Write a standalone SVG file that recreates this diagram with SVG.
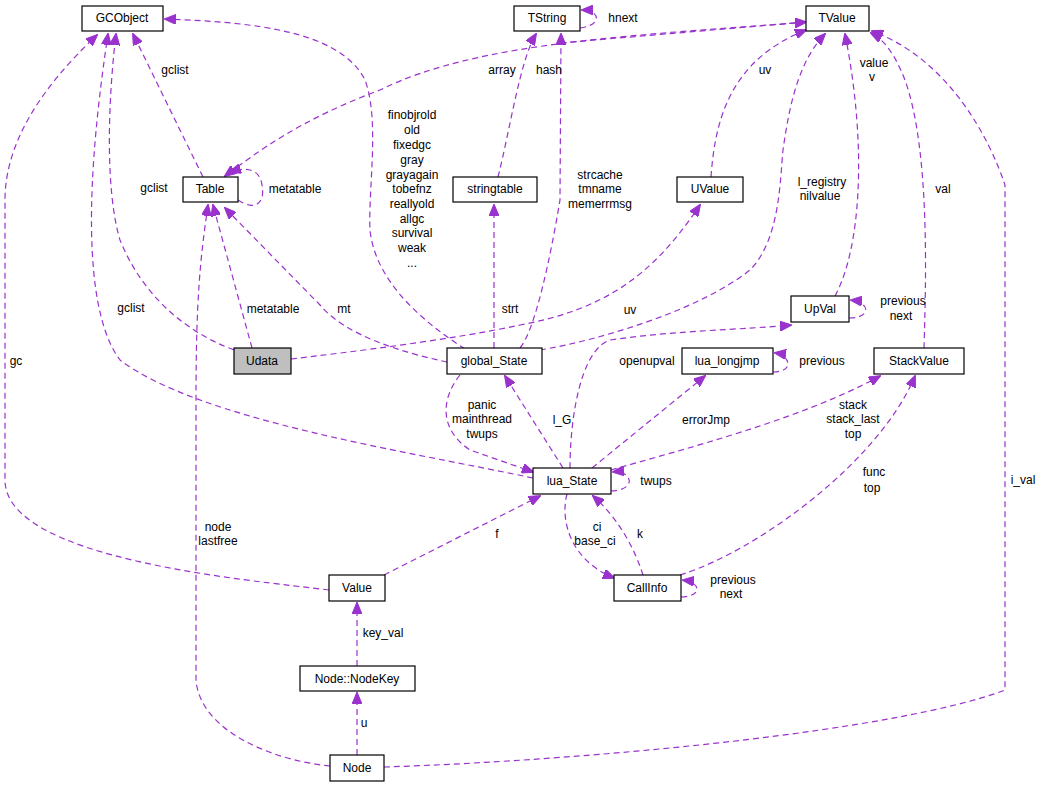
<svg xmlns="http://www.w3.org/2000/svg" width="1044" height="787" viewBox="0 0 1044 787">
<style>
.n rect{fill:#fff;stroke:#000;stroke-width:1.2}
text{font-family:"Liberation Sans",Arial,sans-serif;font-size:12px;fill:#000}
.n text{text-anchor:middle}
.e path{fill:none;stroke:#9a32cd;stroke-width:1.2;stroke-dasharray:6,4;marker-end:url(#a)}
.l text{text-anchor:middle}
</style>
<defs><marker id="a" markerWidth="12" markerHeight="10" refX="11" refY="5" orient="auto" markerUnits="userSpaceOnUse"><path d="M0,0 L12,5 L0,10 Z" fill="#9a32cd" stroke="#9a32cd"/></marker></defs>
<rect width="1044" height="787" fill="#fff"/>
<g class="e">
<path d="M329,590 C250,580 5,560 5,480 L5,200 C5,130 60,70 97,35"/>
<path d="M203,177 L133,34"/>
<path d="M234,350 C180,330 140,290 120,240 C105,190 108,100 116,34"/>
<path d="M533,478 C400,450 200,420 120,360 C90,320 80,220 108,34"/>
<path d="M465,349 C420,320 375,280 370,230 C368,190 380,120 365,80 C340,30 250,22 165,19"/>
<path d="M806,22 C650,35 480,40 380,90 C300,120 260,150 225,176" marker-start="url(#a)" style="marker-start:none"/>
<path d="M560,43 L806,22"/>
<path d="M238,200 C258,213 265,200 262,185 C260,170 248,166 230,172"/>
<path d="M252,348 L213,205"/>
<path d="M447,362 C400,352 345,335 320,305 L225,208"/>
<path d="M330,766 C270,760 200,730 196,680 L196,400 C196,300 200,260 208,205"/>
<path d="M494,348 L494,205"/>
<path d="M498,177 C510,130 520,60 536,34"/>
<path d="M580,28 C603,25 600,10 582,10"/>
<path d="M520,348 C535,330 550,260 560,200 L561,34"/>
<path d="M291,359 C350,352 450,340 520,325 C600,310 650,280 700,205"/>
<path d="M711,177 C715,120 730,60 806,30"/>
<path d="M540,350 C600,340 700,310 750,270 C780,240 780,180 783,150 C790,100 800,60 825,34"/>
<path d="M835,296 C860,250 868,150 845,34"/>
<path d="M849,318 C872,318 870,302 851,300"/>
<path d="M924,348 C926,280 930,150 905,80 C895,55 885,40 871,33"/>
<path d="M384,767 C600,760 900,730 1005,690 L1005,185 C990,140 950,60 872,31"/>
<path d="M570,468 C570,420 580,350 610,340 C680,330 740,330 791,325"/>
<path d="M563,468 L505,376"/>
<path d="M460,375 C440,400 440,430 470,450 L533,472"/>
<path d="M592,468 L705,376"/>
<path d="M611,470 C680,450 800,420 880,376"/>
<path d="M611,491 C638,490 632,470 613,472"/>
<path d="M773,372 C795,372 790,355 775,353"/>
<path d="M384,575 L540,496"/>
<path d="M567,494 C560,520 570,560 614,578"/>
<path d="M643,575 C635,550 620,520 593,496"/>
<path d="M680,575 C760,550 880,460 915,376"/>
<path d="M681,597 C704,596 700,582 683,580"/>
<path d="M357,666 L357,603"/>
<path d="M357,755 L357,693"/>
</g>
<g class="l">
<text x="175" y="74">gclist</text><text x="154" y="192">gclist</text><text x="131" y="312">gclist</text>
<text x="16" y="365">gc</text>
<text x="412" y="119">finobjrold</text><text x="412" y="134">old</text><text x="412" y="149">fixedgc</text><text x="412" y="164">gray</text><text x="412" y="179">grayagain</text><text x="412" y="193">tobefnz</text><text x="412" y="208">reallyold</text><text x="412" y="223">allgc</text><text x="412" y="237">survival</text><text x="412" y="252">weak</text><text x="412" y="267">...</text>
<text x="502" y="74">array</text><text x="295" y="193">metatable</text><text x="273" y="313">metatable</text><text x="344" y="313">mt</text>
<text x="218" y="531">node</text><text x="218" y="545">lastfree</text>
<text x="510" y="313">strt</text><text x="549" y="74">hash</text><text x="623" y="22">hnext</text>
<text x="600" y="179">strcache</text><text x="600" y="193">tmname</text><text x="600" y="208">memerrmsg</text>
<text x="630" y="314">uv</text><text x="765" y="74">uv</text>
<text x="822" y="186">l_registry</text><text x="820" y="200">nilvalue</text>
<text x="874" y="67">value</text><text x="872" y="81">v</text>
<text x="903" y="305">previous</text><text x="901" y="320">next</text>
<text x="943" y="193">val</text><text x="1023" y="484">i_val</text>
<text x="647" y="365">openupval</text><text x="562" y="424">l_G</text>
<text x="482" y="409">panic</text><text x="482" y="423">mainthread</text><text x="482" y="438">twups</text>
<text x="706" y="424">errorJmp</text>
<text x="853" y="409">stack</text><text x="853" y="423">stack_last</text><text x="853" y="438">top</text>
<text x="656" y="485">twups</text><text x="822" y="365">previous</text>
<text x="497" y="538">f</text><text x="597" y="531">ci</text><text x="595" y="545">base_ci</text><text x="640" y="538">k</text>
<text x="874" y="476">func</text><text x="872" y="492">top</text>
<text x="733" y="584">previous</text><text x="731" y="598">next</text>
<text x="383" y="637">key_val</text><text x="364" y="727">u</text>
</g>
<g class="n" id="GCObject"><rect x="82" y="6" width="81" height="25"/><text x="122" y="22">GCObject</text></g>
<g class="n" id="TString"><rect x="514" y="6" width="66" height="25"/><text x="547" y="22">TString</text></g>
<g class="n" id="TValue"><rect x="806" y="6" width="63" height="25"/><text x="837" y="22">TValue</text></g>
<g class="n" id="Table"><rect x="183" y="177" width="55" height="25"/><text x="210" y="193">Table</text></g>
<g class="n" id="stringtable"><rect x="453" y="177" width="84" height="25"/><text x="495" y="193">stringtable</text></g>
<g class="n" id="UValue"><rect x="677" y="177" width="66" height="25"/><text x="710" y="193">UValue</text></g>
<g class="n" id="Udata"><rect x="234" y="348" width="57" height="26" style="fill:#bfbfbf"/><text x="262" y="365">Udata</text></g>
<g class="n" id="global_State"><rect x="447" y="348" width="95" height="26"/><text x="494" y="365">global_State</text></g>
<g class="n" id="UpVal"><rect x="791" y="296" width="58" height="26"/><text x="820" y="313">UpVal</text></g>
<g class="n" id="lua_longjmp"><rect x="682" y="348" width="91" height="26"/><text x="727" y="365">lua_longjmp</text></g>
<g class="n" id="StackValue"><rect x="874" y="348" width="90" height="26"/><text x="919" y="365">StackValue</text></g>
<g class="n" id="lua_State"><rect x="533" y="468" width="78" height="26"/><text x="572" y="485">lua_State</text></g>
<g class="n" id="Value"><rect x="329" y="575" width="56" height="26"/><text x="357" y="592">Value</text></g>
<g class="n" id="CallInfo"><rect x="614" y="575" width="67" height="26"/><text x="647" y="592">CallInfo</text></g>
<g class="n" id="NodeKey"><rect x="300" y="666" width="115" height="25"/><text x="357" y="683">Node::NodeKey</text></g>
<g class="n" id="Node"><rect x="330" y="755" width="54" height="26"/><text x="357" y="772">Node</text></g>
</svg>
